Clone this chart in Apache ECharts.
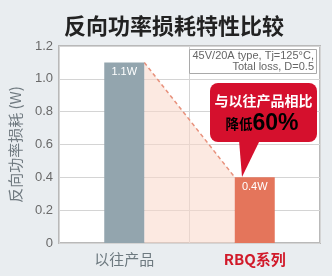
<!DOCTYPE html>
<html><head><meta charset="utf-8">
<script src="https://cdn.jsdelivr.net/npm/echarts@6/dist/echarts.min.js"></script>
<style>html,body{margin:0;padding:0;background:#e9edf0}#c{width:332px;height:276px}</style>
</head><body><div id="c"></div>
<script>
var categories = ['以往产品', 'RBQ系列'];
var lossValues = [1.1, 0.4];
var yTicks = [0, 0.2, 0.4, 0.6, 0.8, 1.0, 1.2];
var barColors = ['#93a5ae', '#e4755b'];
var FONT = '"Liberation Sans", "Noto Sans CJK SC", sans-serif';
var CJK = '"Noto Sans CJK SC", sans-serif';
var BARW = 40;

var chart = echarts.init(document.getElementById('c'), null, {renderer: 'canvas'});
chart.setOption({
  backgroundColor: '#e9edf0',
  animation: false,
  title: {
    text: '反向功率损耗特性比较', left: 59, top: 10,
    textStyle: {fontFamily: CJK, fontSize: 22, fontWeight: 'bold', color: '#222'}
  },
  grid: {left: 53, right: 12, top: 46, bottom: 33, show: true, backgroundColor: '#fff', borderColor: '#b9b9b9', borderWidth: 2},
  xAxis: {
    type: 'category', data: categories,
    axisLine: {show: false}, axisTick: {show: false},
    splitLine: {show: true, lineStyle: {color: '#d4d4d4', width: 1}},
    axisLabel: {
      margin: 9, fontSize: 15, fontFamily: CJK,
      formatter: function (v, i) { return i === 1 ? '{r|' + v + '}' : '{g|' + v + '}'; },
      rich: {
        g: {color: '#6e7a80', fontSize: 15, fontFamily: CJK},
        r: {color: '#d11a2a', fontSize: 15, fontWeight: 'bold', fontFamily: CJK}
      }
    }
  },
  yAxis: {
    type: 'value', min: yTicks[0], max: yTicks[yTicks.length - 1], interval: 0.2,
    name: '反向功率损耗 (W)', nameLocation: 'middle', nameGap: 36,
    nameTextStyle: {fontFamily: CJK, fontSize: 15, color: '#707a80'},
    axisLine: {show: false}, axisTick: {show: false},
    splitLine: {lineStyle: {color: '#d4d4d4', width: 1}},
    axisLabel: {
      margin: 6, fontSize: 13, fontFamily: FONT, color: '#6a6a6a',
      formatter: function (v) { return v === 0 ? '0' : v.toFixed(1); }
    }
  },
  series: [
    {
      type: 'custom', z: 1, silent: true,
      data: [0],
      renderItem: function (params, api) {
        var p0 = api.coord([0, lossValues[0]]);
        var p1 = api.coord([1, lossValues[1]]);
        var b0 = api.coord([0, 0]);
        var b1 = api.coord([1, 0]);
        var h = BARW / 2;
        return {
          type: 'group',
          children: [
            {type: 'polygon', shape: {points: [[p0[0] + h, p0[1]], [p1[0] - h, p1[1]], [b1[0] - h, b1[1]], [b0[0] + h, b0[1]]]},
             style: {fill: 'rgba(250,215,200,0.55)'}},
            {type: 'polyline', shape: {points: [[p0[0] + h, p0[1]], [p1[0] - h, p1[1]]]},
             style: {stroke: '#e8917c', lineWidth: 1.5, lineDash: [4, 3], fill: null}}
          ]
        };
      }
    },
    {
      type: 'bar', z: 2, barWidth: BARW,
      data: lossValues.map(function (v, i) { return {value: v, itemStyle: {color: barColors[i]}}; }),
      label: {show: true, position: 'insideTop', distance: 4, color: '#fff', fontSize: 11, fontFamily: FONT, formatter: '{c}W'}
    }
  ],
  graphic: [
    {type: 'rect', shape: {x: 189.5, y: 49.5, width: 127, height: 24}, style: {fill: '#fff', stroke: '#a9a9a9', lineWidth: 1}, z: 10},
    {type: 'text', x: 314, y: 55.5, style: {text: '45V/20A type, Tj=125°C,', fontSize: 11, fontFamily: FONT, fill: '#666', align: 'right', verticalAlign: 'middle'}, z: 11},
    {type: 'text', x: 314, y: 67, style: {text: 'Total loss, D=0.5', fontSize: 11, fontFamily: FONT, fill: '#666', align: 'right', verticalAlign: 'middle'}, z: 11},
    {type: 'rect', shape: {x: 210, y: 83, width: 107, height: 59, r: 8}, style: {fill: '#d5102d'}, z: 10},
    {type: 'polygon', shape: {points: [[239, 140], [260, 140], [242, 177]]}, style: {fill: '#d5102d'}, z: 10},
    {type: 'text', x: 263.5, y: 101, style: {text: '与以往产品相比', fontSize: 14, fontWeight: 'bold', fontFamily: CJK, fill: '#fff', align: 'center', verticalAlign: 'middle'}, z: 11},
    {type: 'text', x: 262, y: 124, style: {
      text: '{a|降低}{b|60%}', align: 'center', verticalAlign: 'middle',
      rich: {a: {fontSize: 13.5, fontWeight: 'bold', fontFamily: CJK, color: '#fff'}, b: {fontSize: 23, fontWeight: 'bold', fontFamily: FONT, color: '#fff'}}
    }, z: 11}
  ]
});
</script></body></html>
